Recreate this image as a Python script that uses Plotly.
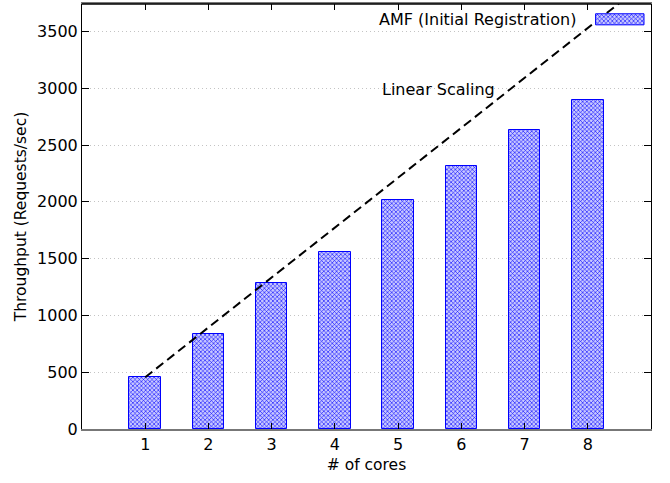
import plotly.graph_objects as go

cores = [1, 2, 3, 4, 5, 6, 7, 8]
throughput = [455, 838, 1284, 1556, 2015, 2319, 2636, 2896]
linear_x = [1, 9]
linear_y = [455, 3970]
y_ticks = [0, 500, 1000, 1500, 2000, 2500, 3000, 3500]
series_name = "AMF (Initial Registration)"
line_label = "Linear Scaling"

FONT = "DejaVu Sans"
BLUE = "#0000ff"
PATTERN = dict(shape="x", size=3, solidity=0.35, fgcolor=BLUE,
               bgcolor="#c8c8ff", fillmode="replace")

fig = go.Figure()

fig.add_trace(go.Bar(
    x=cores, y=throughput, width=0.5,
    marker=dict(color="white", line=dict(color=BLUE, width=1), pattern=PATTERN),
    showlegend=False,
))

fig.add_trace(go.Scatter(
    x=linear_x, y=linear_y, mode="lines",
    line=dict(color="black", width=2, dash="9px,5px"),
    showlegend=False,
))

# legend swatch on an overlay axis in [0,1] units
sw_x0, sw_x1, sw_y0, sw_y1 = 0.9026, 0.9877, 0.951, 0.977
fig.add_trace(go.Scatter(
    x=[sw_x0, sw_x1, sw_x1, sw_x0, sw_x0],
    y=[sw_y0, sw_y0, sw_y1, sw_y1, sw_y0],
    xaxis="x2", yaxis="y2", mode="lines", fill="toself",
    line=dict(color=BLUE, width=1),
    fillcolor="rgba(0,0,0,0)",
    fillpattern=PATTERN,
    showlegend=False, hoverinfo="skip",
))

fig.update_layout(
    width=670, height=483,
    margin=dict(l=82, r=19, t=4, b=54),
    paper_bgcolor="white", plot_bgcolor="white",
    font=dict(family=FONT, size=16, color="black"),
    bargap=0,
    xaxis=dict(
        range=[0, 9], tickvals=cores, ticks="inside", ticklen=6,
        tickcolor="black", showgrid=False, zeroline=False, automargin=False,
        showline=True, linecolor="#777777", linewidth=2, mirror="ticks",
        title=dict(text="# of cores", standoff=6, font=dict(size=15.5)),
        tickfont=dict(size=16),
    ),
    yaxis=dict(
        range=[0, 3742], tickvals=y_ticks, ticks="inside", ticklen=7,
        tickcolor="black", showgrid=True, gridcolor="#c4c4c4",
        griddash="1px,3px", gridwidth=1, zeroline=False, automargin=False,
        showline=True, linecolor="black", linewidth=1, mirror="ticks",
        title=dict(text="Throughput (Requests/sec)", standoff=6,
                   font=dict(size=15.5)),
        tickfont=dict(size=16),
    ),
    xaxis2=dict(domain=[0, 1], range=[0, 1], overlaying="x", visible=False,
                fixedrange=True),
    yaxis2=dict(domain=[0, 1], range=[0, 1], overlaying="y", visible=False,
                fixedrange=True),
    shapes=[
        dict(type="line", xref="paper", yref="paper", x0=0, x1=1, y0=1, y1=1,
             line=dict(color="black", width=1.5), layer="above"),
    ],
    annotations=[
        dict(text=series_name, xref="paper", yref="paper", x=0.8717, y=0.964,
             xanchor="right", yanchor="middle", showarrow=False,
             font=dict(size=16)),
        dict(text=line_label, x=4.71, y=2990, xanchor="left", yanchor="middle",
             showarrow=False, font=dict(size=16)),
    ],
)

fig.write_html(
    "out.html",
    config={"displayModeBar": False},
    post_script="document.body.style.margin='0';document.body.style.overflow='hidden';",
)
